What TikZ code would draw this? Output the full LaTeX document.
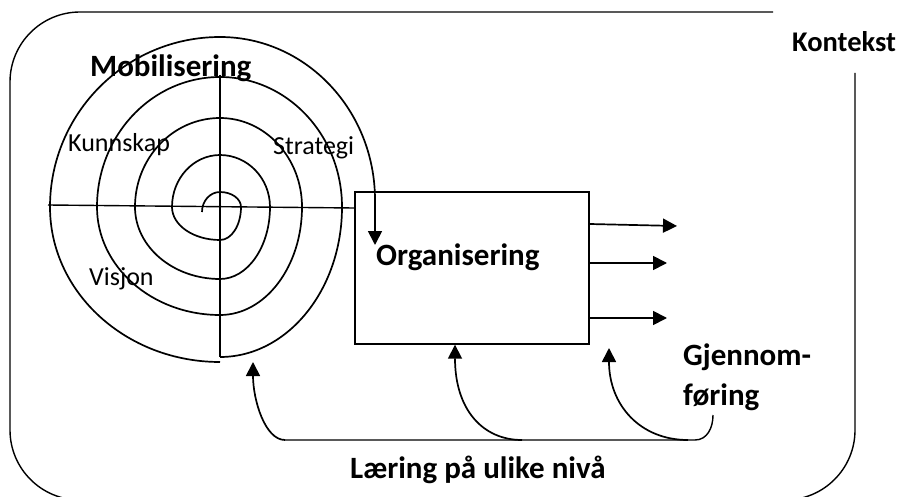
\documentclass[tikz,border=0pt]{standalone}
\usepackage{fontspec}
\setmainfont{Carlito}
\usetikzlibrary{arrows.meta,positioning,calc}

\tikzset{
  lbl/.style={inner sep=0, anchor=base west, font=\fontsize{26}{31}\selectfont},
  blbl/.style={inner sep=0, anchor=base west, font=\bfseries\fontsize{31}{37}\selectfont},
  line/.style={line width=1.4pt},
  arr/.style={line width=1.7pt, -{Triangle[length=14pt,width=14pt]}}
}

\begin{document}
\begin{tikzpicture}[x=1pt,y=-1pt]
  \useasboundingbox (0,0) rectangle (912,497);
  \clip (0,0) rectangle (912,497);

  % context frame
  \draw[line, rounded corners=70] (773,12) -- (10,12) -- (10,500) -- (855,500) -- (855,73);

  % box
  \node[draw, line width=1.4pt, minimum width=234pt, minimum height=152pt, inner sep=0] (orgbox) at (472,268) {};

  % cross
  \draw[line] (220,75) -- (220,357);
  \draw[line] (48,205) -- (orgbox.west |- 0,208);

  % spiral
  \coordinate (spstart) at (202,212);
  \coordinate (spin) at (375,245);
  \draw[arr] (spstart) arc[start angle=180, end angle=270, x radius=18, y radius=20]
    arc[start angle=-90, end angle=0, x radius=21, y radius=15]
    arc[start angle=0, end angle=90, x radius=21, y radius=33]
    arc[start angle=90, end angle=180, x radius=48, y radius=33]
    arc[start angle=180, end angle=270, x radius=48, y radius=52]
    arc[start angle=-90, end angle=0, x radius=50, y radius=52]
    arc[start angle=0, end angle=90, x radius=50, y radius=72]
    arc[start angle=90, end angle=180, x radius=85, y radius=72]
    arc[start angle=180, end angle=270, x radius=85, y radius=89]
    arc[start angle=-90, end angle=0, x radius=82, y radius=89]
    arc[start angle=0, end angle=90, x radius=82, y radius=108]
    arc[start angle=90, end angle=180, x radius=123, y radius=108]
    arc[start angle=180, end angle=270, x radius=123, y radius=130]
    arc[start angle=-90, end angle=0, x radius=122, y radius=130]
    arc[start angle=0, end angle=90, x radius=122, y radius=150]
    (220,362) arc[start angle=90, end angle=180, x radius=170, y radius=155]
    arc[start angle=180, end angle=270, x radius=170, y radius=170]
    arc[start angle=-90, end angle=0, x radius=155, y radius=163] -- (spin);

  % labels
  \node[blbl] (mob) at (90,77) {Mobilisering};
  \node[blbl, font=\bfseries\fontsize{28.5}{34}\selectfont] (kontekst) at (792,52) {Kontekst};
  \node[lbl] (kunn) at (68,152) {Kunnskap};
  \node[lbl] (strat) at (273,155) {Strategi};
  \node[lbl] (vis) at (89,285) {Visjon};
  \node[blbl] (org) at (376,265) {Organisering};
  \node[blbl] (gj1) at (683,365) {Gjennom-};
  \node[blbl] (gj2) at (683,405) {føring};
  \node[blbl] (laer) at (350,478) {Læring på ulike nivå};

  % outputs
  \coordinate (out1) at (677,226);
  \coordinate (out2) at (667,263);
  \coordinate (out3) at (667,318);
  \draw[arr] (orgbox.east |- 0,224) -- (out1);
  \draw[arr] (orgbox.east |- out2) -- (out2);
  \draw[arr] (orgbox.east |- out3) -- (out3);

  % feedback
  \coordinate (hook) at (713,415);
  \coordinate (fbleft) at (285,440);
  \coordinate (fbmid) at (522,440);
  \coordinate (fbright) at (688,440);
  \coordinate (spbottom) at (253,362);
  \draw[line] (hook) .. controls (713,428) and (707,440) .. (695,440) -- (fbleft);
  \draw[arr] (fbleft) .. controls (265,440) and (253,400) .. (spbottom);
  \draw[arr] (fbmid) .. controls (483,440) and (455,410) .. (orgbox.south -| 455,0);
  \draw[arr] (fbright) .. controls (640,440) and (609,405) .. (609,348);
\end{tikzpicture}
\end{document}
